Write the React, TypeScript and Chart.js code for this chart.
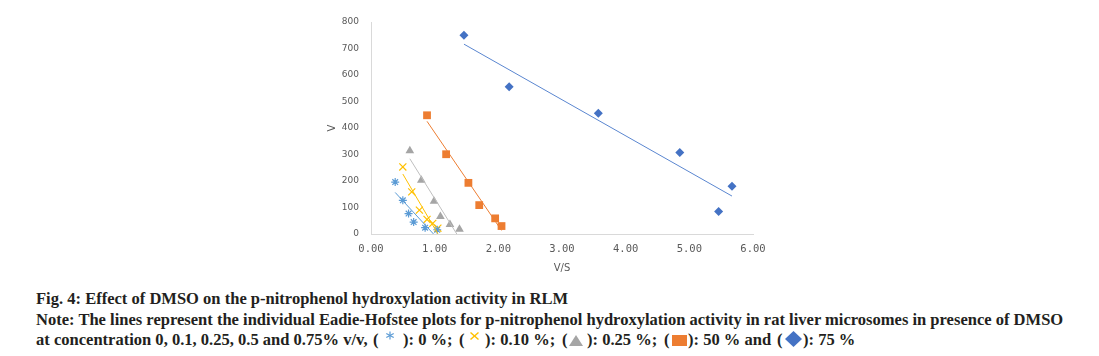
import React, { useEffect, useRef } from "react";
import { Chart, registerables } from "chart.js";

Chart.register(...registerables);

// 0 % DMSO (blue asterisk)
const asteriskX = [0.38, 0.5, 0.59, 0.67, 0.85, 1.04];
const asteriskY = [196, 127, 77, 45, 24, 16];
// 0.10 % DMSO (yellow x)
const crossX = [0.5, 0.64, 0.76, 0.88, 0.97, 1.05];
const crossY = [253, 159, 90, 55, 40, 22];
// 0.25 % DMSO (gray triangle)
const triangleX = [0.61, 0.79, 0.99, 1.09, 1.24, 1.39];
const triangleY = [314, 203, 124, 66, 36, 18];
// 50 % DMSO (orange square)
const squareX = [0.88, 1.18, 1.53, 1.7, 1.95, 2.05];
const squareY = [448, 301, 193, 109, 59, 30];
// 75 % DMSO (blue diamond)
const diamondX = [1.46, 2.17, 3.57, 4.85, 5.67, 5.46];
const diamondY = [750, 556, 456, 308, 180, 85];

const xTickValues = [0, 1, 2, 3, 4, 5, 6];
const yTickValues = [0, 100, 200, 300, 400, 500, 600, 700, 800];

const xTitle = "V/S";
const yTitle = "V";

function toPoints(xs: number[], ys: number[]) {
  return xs.map((x, i) => ({ x, y: ys[i] }));
}

// linear least-squares trendline spanning the data's x range
function trend(xs: number[], ys: number[]) {
  const n = xs.length;
  const mx = xs.reduce((a, b) => a + b, 0) / n;
  const my = ys.reduce((a, b) => a + b, 0) / n;
  let sxy = 0;
  let sxx = 0;
  for (let i = 0; i < n; i++) {
    sxy += (xs[i] - mx) * (ys[i] - my);
    sxx += (xs[i] - mx) * (xs[i] - mx);
  }
  const b = sxy / sxx;
  const a = my - b * mx;
  const x0 = Math.min(...xs);
  const x1 = Math.max(...xs);
  return [
    { x: x0, y: a + b * x0 },
    { x: x1, y: a + b * x1 },
  ];
}

const series = [
  { xs: asteriskX, ys: asteriskY, color: "#5b9bd5", line: "#5b9bd5", style: "star", r: 4 },
  { xs: crossX, ys: crossY, color: "#ffc000", line: "#ffc000", style: "crossRot", r: 5 },
  { xs: triangleX, ys: triangleY, color: "#a5a5a5", line: "#bfbfbf", style: "triangle", r: 5 },
  { xs: squareX, ys: squareY, color: "#ed7d31", line: "#ed7d31", style: "rect", r: 5.5 },
  { xs: diamondX, ys: diamondY, color: "#4472c4", line: "#5a86d0", style: "rectRot", r: 4.5 },
];

export default function App() {
  const ref = useRef<HTMLCanvasElement | null>(null);

  useEffect(() => {
    document.body.style.margin = "0";
    const canvas = ref.current;
    if (!canvas) return;
    const datasets: any[] = [];
    series.forEach((s) => {
      datasets.push({
        type: "line",
        data: trend(s.xs, s.ys),
        borderColor: s.line,
        borderWidth: 1,
        pointRadius: 0,
        showLine: true,
        fill: false,
      });
    });
    series.forEach((s) => {
      const outline = s.style === "star" || s.style === "crossRot";
      datasets.push({
        type: "scatter",
        data: toPoints(s.xs, s.ys),
        pointStyle: s.style,
        pointRadius: s.r,
        pointBackgroundColor: s.color,
        pointBorderColor: s.color,
        pointBorderWidth: outline ? 1.2 : 0,
        showLine: false,
      });
    });

    const chart = new Chart(canvas, {
      type: "scatter",
      data: { datasets },
      options: {
        animation: false,
        responsive: false,
        layout: { padding: { left: 322, right: 346, top: 22, bottom: 2 } },
        plugins: { legend: { display: false }, tooltip: { enabled: false } },
        scales: {
          x: {
            type: "linear",
            min: 0,
            max: 6,
            afterFit: (scale: any) => {
              scale.height = 44;
            },
            afterBuildTicks: (scale: any) => {
              scale.ticks = xTickValues.map((v) => ({ value: v }));
            },
            grid: { display: false, drawTicks: false },
            border: { display: true, color: "#d9d9d9", width: 1 },
            ticks: {
              padding: 9,
              color: "#595959",
              font: { family: "DejaVu Sans Mono", size: 10.5 },
              callback: (v: any) => Number(v).toFixed(2),
              maxRotation: 0,
            },
            title: {
              display: true,
              text: xTitle,
              color: "#595959",
              font: { family: "DejaVu Sans", size: 10 },
              padding: { top: 4, bottom: 4 },
            },
          },
          y: {
            type: "linear",
            min: 0,
            max: 800,
            afterFit: (scale: any) => {
              scale.width = 49;
            },
            afterBuildTicks: (scale: any) => {
              scale.ticks = yTickValues.map((v) => ({ value: v }));
            },
            grid: { display: false, drawTicks: false },
            border: { display: true, color: "#d9d9d9", width: 1 },
            ticks: {
              padding: 12,
              color: "#595959",
              font: { family: "DejaVu Sans", size: 9 },
              callback: (v: any) => String(v),
            },
            title: {
              display: true,
              text: yTitle,
              color: "#595959",
              font: { family: "DejaVu Sans", size: 10 },
              padding: { top: 4, bottom: 4 },
            },
          },
        },
      } as any,
    });
    return () => chart.destroy();
  }, []);

  const abs = (left: number, top: number = 0): React.CSSProperties => ({
    position: "absolute",
    left: left - 36,
    top,
  });

  return (
    <div style={{ position: "relative", width: 1099, height: 356, background: "#fff", overflow: "hidden" }}>
      <canvas ref={ref} width={1099} height={280} style={{ position: "absolute", left: 0, top: 0, width: 1099, height: 280 }} />
      <div
        style={{
          position: "absolute",
          left: 36,
          top: 289,
          fontFamily: "'Liberation Serif', 'Times New Roman', serif",
          fontWeight: "bold",
          fontSize: 16.55,
          lineHeight: "20.5px",
          color: "#231f20",
          whiteSpace: "nowrap",
        }}
      >
        <div>Fig. 4: Effect of DMSO on the p-nitrophenol hydroxylation activity in RLM</div>
        <div>
          Note: The lines represent the individual Eadie-Hofstee plots for p-nitrophenol hydroxylation activity in rat liver microsomes in presence of DMSO
        </div>
        <div style={{ position: "relative", height: 20.5 }}>
          <span style={abs(36)}>at concentration 0, 0.1, 0.25, 0.5 and 0.75% v/v, </span>
          <span style={abs(373)}>(</span>
          <svg width={10} height={9} style={abs(385, 1)}>
            <g stroke="#5b9bd5" strokeWidth={1.2}>
              <line x1={5} y1={0.5} x2={5} y2={8.5} />
              <line x1={1.3} y1={2.5} x2={8.7} y2={6.5} />
              <line x1={1.3} y1={6.5} x2={8.7} y2={2.5} />
            </g>
          </svg>
          <span style={abs(403)}>): 0 %; </span>
          <span style={abs(459)}>(</span>
          <svg width={9} height={8} style={abs(470, 2)}>
            <g stroke="#ffc000" strokeWidth={1.4}>
              <line x1={0.5} y1={0.5} x2={8.5} y2={7.5} />
              <line x1={0.5} y1={7.5} x2={8.5} y2={0.5} />
            </g>
          </svg>
          <span style={abs(485)}>): 0.10 %; </span>
          <span style={abs(562)}>(</span>
          <svg width={14} height={11} style={abs(569, 5)}>
            <polygon points="7,0 14,11 0,11" fill="#a5a5a5" />
          </svg>
          <span style={abs(587)}>): 0.25 %; </span>
          <span style={abs(664)}>(</span>
          <svg width={15} height={11} style={abs(672, 5)}>
            <rect x={0} y={0} width={15} height={11} fill="#ed7d31" />
          </svg>
          <span style={abs(688)}>): 50 % and </span>
          <span style={abs(777)}>(</span>
          <svg width={17} height={16} style={abs(785, 1)}>
            <polygon points="8.5,0 17,8 8.5,16 0,8" fill="#4472c4" />
          </svg>
          <span style={abs(803)}>): 75 %</span>
        </div>
      </div>
    </div>
  );
}
